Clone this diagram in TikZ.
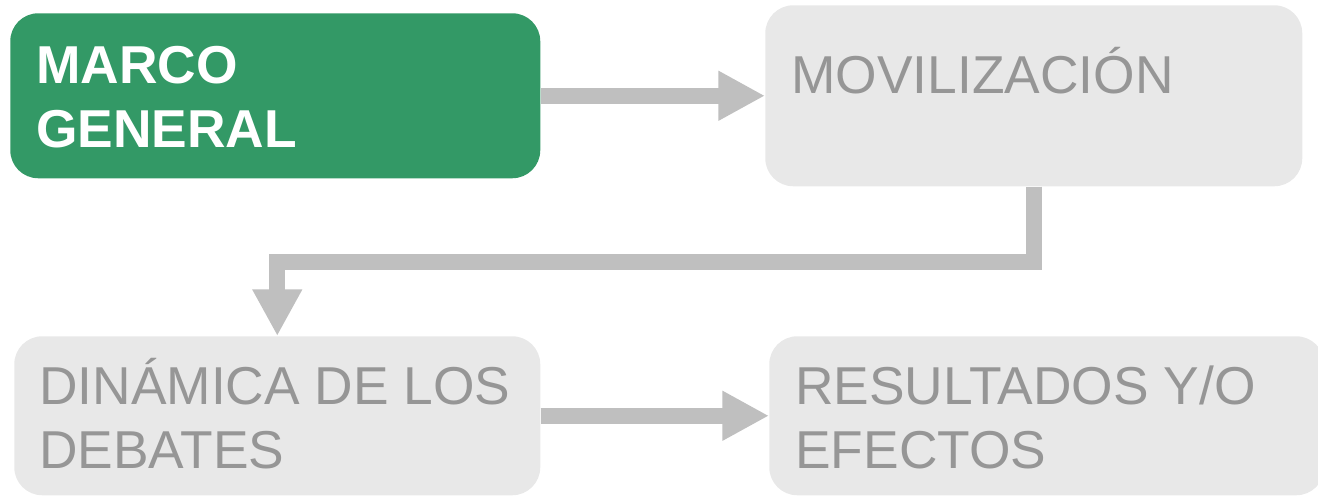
\documentclass[tikz,border=0pt]{standalone}
\usepackage{fontspec}
\setmainfont{Liberation Sans}
\usetikzlibrary{arrows.meta,positioning,calc}
\definecolor{marcogreen}{HTML}{339966}
\definecolor{boxgray}{HTML}{E8E8E8}
\definecolor{textgray}{HTML}{969696}
\definecolor{arrowgray}{HTML}{BFBFBF}
\tikzset{
    stage/.style={rectangle, rounded corners=21pt, fill=boxgray, inner sep=0pt, anchor=north west},
    active/.style={stage, fill=marcogreen},
    caption/.style={anchor=base west, inner sep=0pt, align=left, font=\fontsize{40}{48}\selectfont, text=textgray},
    flow/.style={-{Triangle[length=35pt, width=35pt]}, line width=12pt, arrowgray, line join=miter}
}
\begin{document}
\begin{tikzpicture}[x=0.75pt, y=-0.75pt]
    \useasboundingbox (0,0) rectangle (1318,496);
    % stages
    \node[active, minimum width=397.5pt, minimum height=123.75pt] (marco) at (10,13) {};
    \node[stage, minimum width=402.75pt, minimum height=135.75pt] (mov) at (765,5) {};
    \node[stage, minimum width=394.5pt, minimum height=119.25pt] (din) at (14,336) {};
    \node[stage, minimum width=416.25pt, minimum height=119.25pt] (res) at (769,336) {};
    % texts (base = baseline of the last line)
    \node[caption, text=white, font=\fontsize{40}{48}\selectfont\bfseries] (marcotxt) at ([shift={(26,134)}]marco.north west) {MARCO\\GENERAL};
    \node[caption] (movtxt) at ([shift={(26,88)}]mov.north west) {MOVILIZACIÓN};
    \node[caption] (dintxt) at ([shift={(25,132)}]din.north west) {DINÁMICA DE LOS\\DEBATES};
    \node[caption] (restxt) at ([shift={(26,132)}]res.north west) {RESULTADOS Y/O\\EFECTOS};
    % arrows
    \draw[flow] (marco) -- (mov);
    \draw[flow] (mov.south) -- ++(0,75) -| (din.north);
    \draw[flow] (din) -- (res);
\end{tikzpicture}
\end{document}
